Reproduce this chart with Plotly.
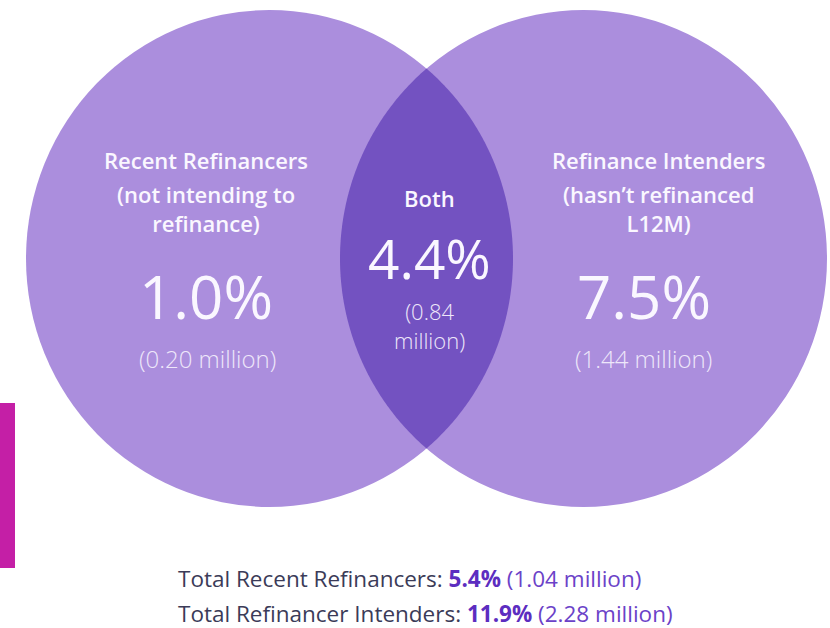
import numpy as np
import plotly.graph_objects as go

# ---- data ----
segment_names = ["Recent Refinancers", "Both", "Refinance Intenders"]
segment_subtitles = [["(not intending to", "refinance)"], [], ["(hasn’t refinanced", "L12M)"]]
segment_pct = [1.0, 4.4, 7.5]
segment_millions = [0.20, 0.84, 1.44]
total_labels = ["Total Recent Refinancers", "Total Refinancer Intenders"]
total_pct = [5.4, 11.9]
total_millions = [1.04, 2.28]

# ---- style ----
W, H = 830, 628
LIGHT = "#AB8EDD"
DARK = "#7352C1"
MAGENTA = "#C41FA6"
FONT = "Open Sans"

# circle boxes (pixel space)
left_box = (26, 10, 513, 507)
right_box = (340, 10, 827, 507)


# lens path: intersection of two ellipses
def lens_path():
    x0l, y0l, x1l, y1l = left_box
    x0r, y0r, x1r, y1r = right_box
    cxl, cyl, rxl, ryl = (x0l + x1l) / 2, (y0l + y1l) / 2, (x1l - x0l) / 2, (y1l - y0l) / 2
    cxr, cyr, rxr, ryr = (x0r + x1r) / 2, (y0r + y1r) / 2, (x1r - x0r) / 2, (y1r - y0r) / 2
    xm = (cxl + cxr) / 2
    hy = ryl * np.sqrt(1 - ((xm - cxl) / rxl) ** 2)
    ys = np.linspace(cyl - hy, cyl + hy, 160)
    xr = cxl + rxl * np.sqrt(np.clip(1 - ((ys - cyl) / ryl) ** 2, 0, 1))
    xl = cxr - rxr * np.sqrt(np.clip(1 - ((ys[::-1] - cyr) / ryr) ** 2, 0, 1))
    pts = list(zip(xr, ys)) + list(zip(xl, ys[::-1]))
    return "M " + " L ".join(f"{x:.2f},{y:.2f}" for x, y in pts) + " Z"


fig = go.Figure()
fig.add_trace(go.Scatter(x=[0, W], y=[0, H], mode="markers", marker=dict(opacity=0),
                         hoverinfo="skip", showlegend=False))

shapes = [
    dict(type="circle", xref="x", yref="y", x0=left_box[0], y0=left_box[1], x1=left_box[2], y1=left_box[3],
         fillcolor=LIGHT, line=dict(width=0), layer="below"),
    dict(type="circle", xref="x", yref="y", x0=right_box[0], y0=right_box[1], x1=right_box[2], y1=right_box[3],
         fillcolor=LIGHT, line=dict(width=0), layer="below"),
    dict(type="path", xref="x", yref="y", path=lens_path(), fillcolor=DARK, line=dict(width=0), layer="below"),
    dict(type="rect", xref="x", yref="y", x0=0, x1=15, y0=403, y1=568, fillcolor=MAGENTA,
         line=dict(width=0), layer="below"),
]

ann = []
def txt(x, y, s, size, color="white", weight="normal", xanchor="center"):
    ann.append(dict(x=x, y=y, xref="x", yref="y", text=s, showarrow=False, xanchor=xanchor, yanchor="middle",
                    borderpad=0, font=dict(family=FONT, size=size, color=color, weight=weight)))

WHITE = "#FAF7FF"
SOFT = "#EEE7FA"
HEAD = 22
SUB = 24

# Left
txt(206, 160, segment_names[0], HEAD, WHITE, 600)
txt(206, 208, "<br>".join(segment_subtitles[0]), HEAD, WHITE, 600)
txt(206, 296, f"{segment_pct[0]:.1f}%", 60, WHITE, 400)
txt(207, 358, f"({segment_millions[0]:.2f} million)", SUB, SOFT, 300)
# Center
txt(429, 198, segment_names[1], HEAD, WHITE, 600)
txt(429, 257, f"{segment_pct[1]:.1f}%", 55, WHITE, 400)
txt(429, 325, f"({segment_millions[1]:.2f}<br>million)", 22, SOFT, 300)
# Right
txt(658, 160, segment_names[2], HEAD, WHITE, 600)
txt(658, 208, "<br>".join(segment_subtitles[2]), HEAD, WHITE, 600)
txt(644, 296, f"{segment_pct[2]:.1f}%", 60, WHITE, 400)
txt(643, 358, f"({segment_millions[2]:.2f} million)", SUB, SOFT, 300)

# Totals
TXT = "#3B3B58"
PUR_B = "#5C2DC0"
PUR = "#6B42C8"
for i, (lab, p, m) in enumerate(zip(total_labels, total_pct, total_millions)):
    s = (f"{lab}: <b><span style='color:{PUR_B}'>{p:.1f}%</span></b> "
         f"<span style='color:{PUR}'>({m:.2f} million)</span>")
    txt(177, 578 + 35 * i, s, 22.5, TXT, 400, xanchor="left")

fig.update_layout(
    width=W, height=H, margin=dict(l=0, r=0, t=0, b=0),
    paper_bgcolor="white", plot_bgcolor="white",
    xaxis=dict(range=[0, W], visible=False, fixedrange=True),
    yaxis=dict(range=[H, 0], visible=False, fixedrange=True),
    shapes=shapes, annotations=ann, showlegend=False,
)
fig.write_html("out.html", config={"displayModeBar": False},
               post_script="document.body.style.margin='0px';")
